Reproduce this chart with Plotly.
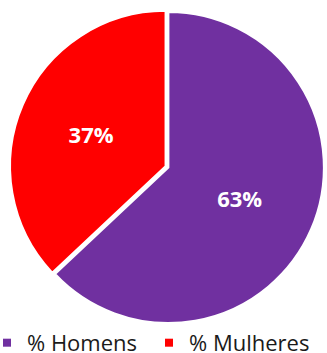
import plotly.graph_objects as go

labels = ["% Homens", "% Mulheres"]
values = [63, 37]
colors = ["#7030A0", "#FF0000"]
pulls = [0, 0.02]

fig = go.Figure()

fig.add_trace(go.Pie(
    labels=labels,
    values=values,
    sort=False,
    direction="clockwise",
    rotation=0,
    pull=pulls,
    marker=dict(colors=colors, line=dict(color="white", width=2)),
    texttemplate="%{percent:.0%}",
    textposition="inside",
    insidetextorientation="horizontal",
    textfont=dict(family="Open Sans", size=22, color="white", weight="bold"),
    domain=dict(x=[0.03, 1], y=[0, 1]),
    hoverinfo="skip",
    showlegend=False,
))

# legend entries with small square swatches
for lab, col in zip(labels, colors):
    fig.add_trace(go.Scatter(
        x=[None], y=[None], mode="markers", name=lab,
        marker=dict(symbol="square", size=8, color=col),
        showlegend=True, hoverinfo="skip",
    ))

fig.update_layout(
    width=327, height=353,
    margin=dict(l=0, r=0, t=6, b=24, autoexpand=False),
    paper_bgcolor="white",
    plot_bgcolor="white",
    xaxis=dict(visible=False),
    yaxis=dict(visible=False),
    showlegend=True,
    legend=dict(
        orientation="h", x=0, xanchor="left", y=0.022, yanchor="top",
        font=dict(family="Open Sans", size=22, color="#1a1a1a"),
        itemwidth=30, tracegroupgap=0, entrywidth=130, indentation=-13,
    ),
)

fig.write_html("out.html", config={"displayModeBar": False},
               post_script="document.body.style.margin='0';")
